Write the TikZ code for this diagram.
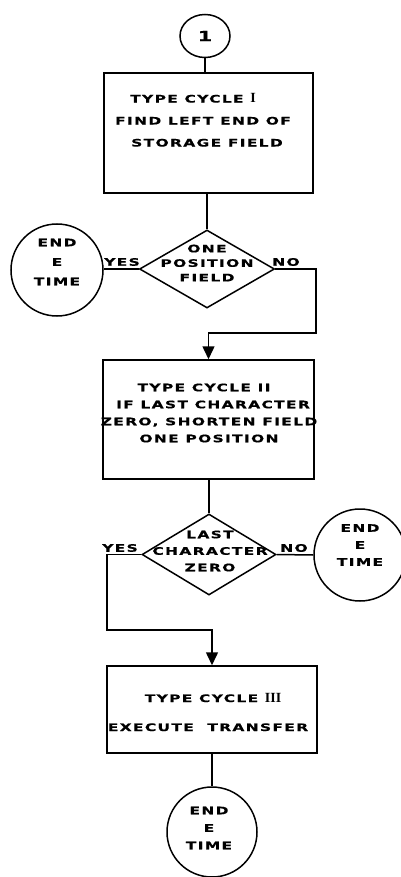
\documentclass[tikz,border=0pt]{standalone}
\usepackage{fontspec}
\newfontfamily\lbl{DejaVu Sans}[FakeStretch=1.5,LetterSpace=13,BoldFeatures={FakeBold=0.6}]
\newfontfamily\rnum{Liberation Serif}
\usetikzlibrary{shapes.geometric,arrows.meta}
\begin{document}
\begin{tikzpicture}[x=1pt,y=-1pt,line width=1.5pt,
  txt/.style={font=\lbl\bfseries\fontsize{10.3}{#1}\selectfont,align=center,inner sep=0pt},
  txt/.default=20,
  stepbox/.style={draw,rectangle,inner sep=0pt},
  decision/.style={draw,diamond,inner sep=0pt,minimum width=135pt,minimum height=80pt},
  terminal/.style={draw,circle,inner sep=0pt,minimum size=92pt},
  flow/.style={-{Triangle[length=13pt,width=12pt]}}]
\useasboundingbox (0,0) rectangle (401,877);

% shapes
\node[draw,ellipse,inner sep=0pt,minimum width=50pt,minimum height=43pt,font=\lbl\bfseries\fontsize{14}{14}\selectfont] (c1) at (205,36) {1};
\node[stepbox,minimum width=209pt,minimum height=120pt] (b1) at (208.5,133) {};
\node[decision,minimum height=78pt] (d1) at (207,269) {};
\node[terminal] (e1) at (57,270) {};
\node[stepbox,minimum width=211pt,minimum height=119pt] (b2) at (208.5,419.5) {};
\node[decision,minimum width=134pt,minimum height=81pt] (d2) at (209,554.5) {};
\node[terminal] (e2) at (360,555) {};
\node[stepbox,minimum width=210pt,minimum height=87pt] (b3) at (212,709.5) {};
\node[terminal,minimum size=90pt] (e3) at (212,832) {};

% texts
\node[txt=22] (t1) at (203,120) {TYPE CYCLE {\rnum\bfseries\fontsize{14}{14}\selectfont I}\hspace*{20pt}\\FIND LEFT END OF\\\hspace*{8pt}STORAGE FIELD};
\node[txt=14.5] (t2) at (207,263) {ONE\\POSITION\\FIELD};
\node[txt=19.5] (t3) at (57,262) {END\\E\\TIME};
\node[txt=17] (t4) at (209,413) {TYPE CYCLE II\hspace*{10pt}\\\hspace*{8pt}IF LAST CHARACTER\\ZERO, SHORTEN FIELD\\ONE POSITION};
\node[txt=16.5] (t5) at (210,551) {LAST\\CHARACTER\\ZERO};
\node[txt=17] (t6) at (360,545) {END\\E\\TIME};
\node[txt=29] (t7) at (208,712) {\hspace*{10pt}TYPE CYCLE {\rnum\bfseries\fontsize{14}{14}\selectfont III}\\EXECUTE\ \ TRANSFER};
\node[txt=17.5] (t8) at (209,828) {END\\E\\TIME};

% labels
\node[txt] (y1) at (122,262) {YES};
\node[txt] (n1l) at (286,262) {NO};
\node[txt] (y2) at (120,548) {YES};
\node[txt] (n2l) at (294,548) {NO};

% connectors
\coordinate (j1) at (316,333);
\coordinate (j2) at (107,630);
\draw (c1.south) -- (c1.south |- b1.north);
\draw (d1.north |- b1.south) -- (d1.north);
\draw (d1.west) -- (d1.west -| e1.east);
\draw[flow] (d1.east) -| (j1) -| (b2.north);
\draw (d2.north |- b2.south) -- (d2.north);
\draw (d2.east) -- (e2.west);
\draw[flow] (d2.west) -| (j2) -| (b3.north);
\draw (b3.south) -- (e3.north);
\end{tikzpicture}
\end{document}
